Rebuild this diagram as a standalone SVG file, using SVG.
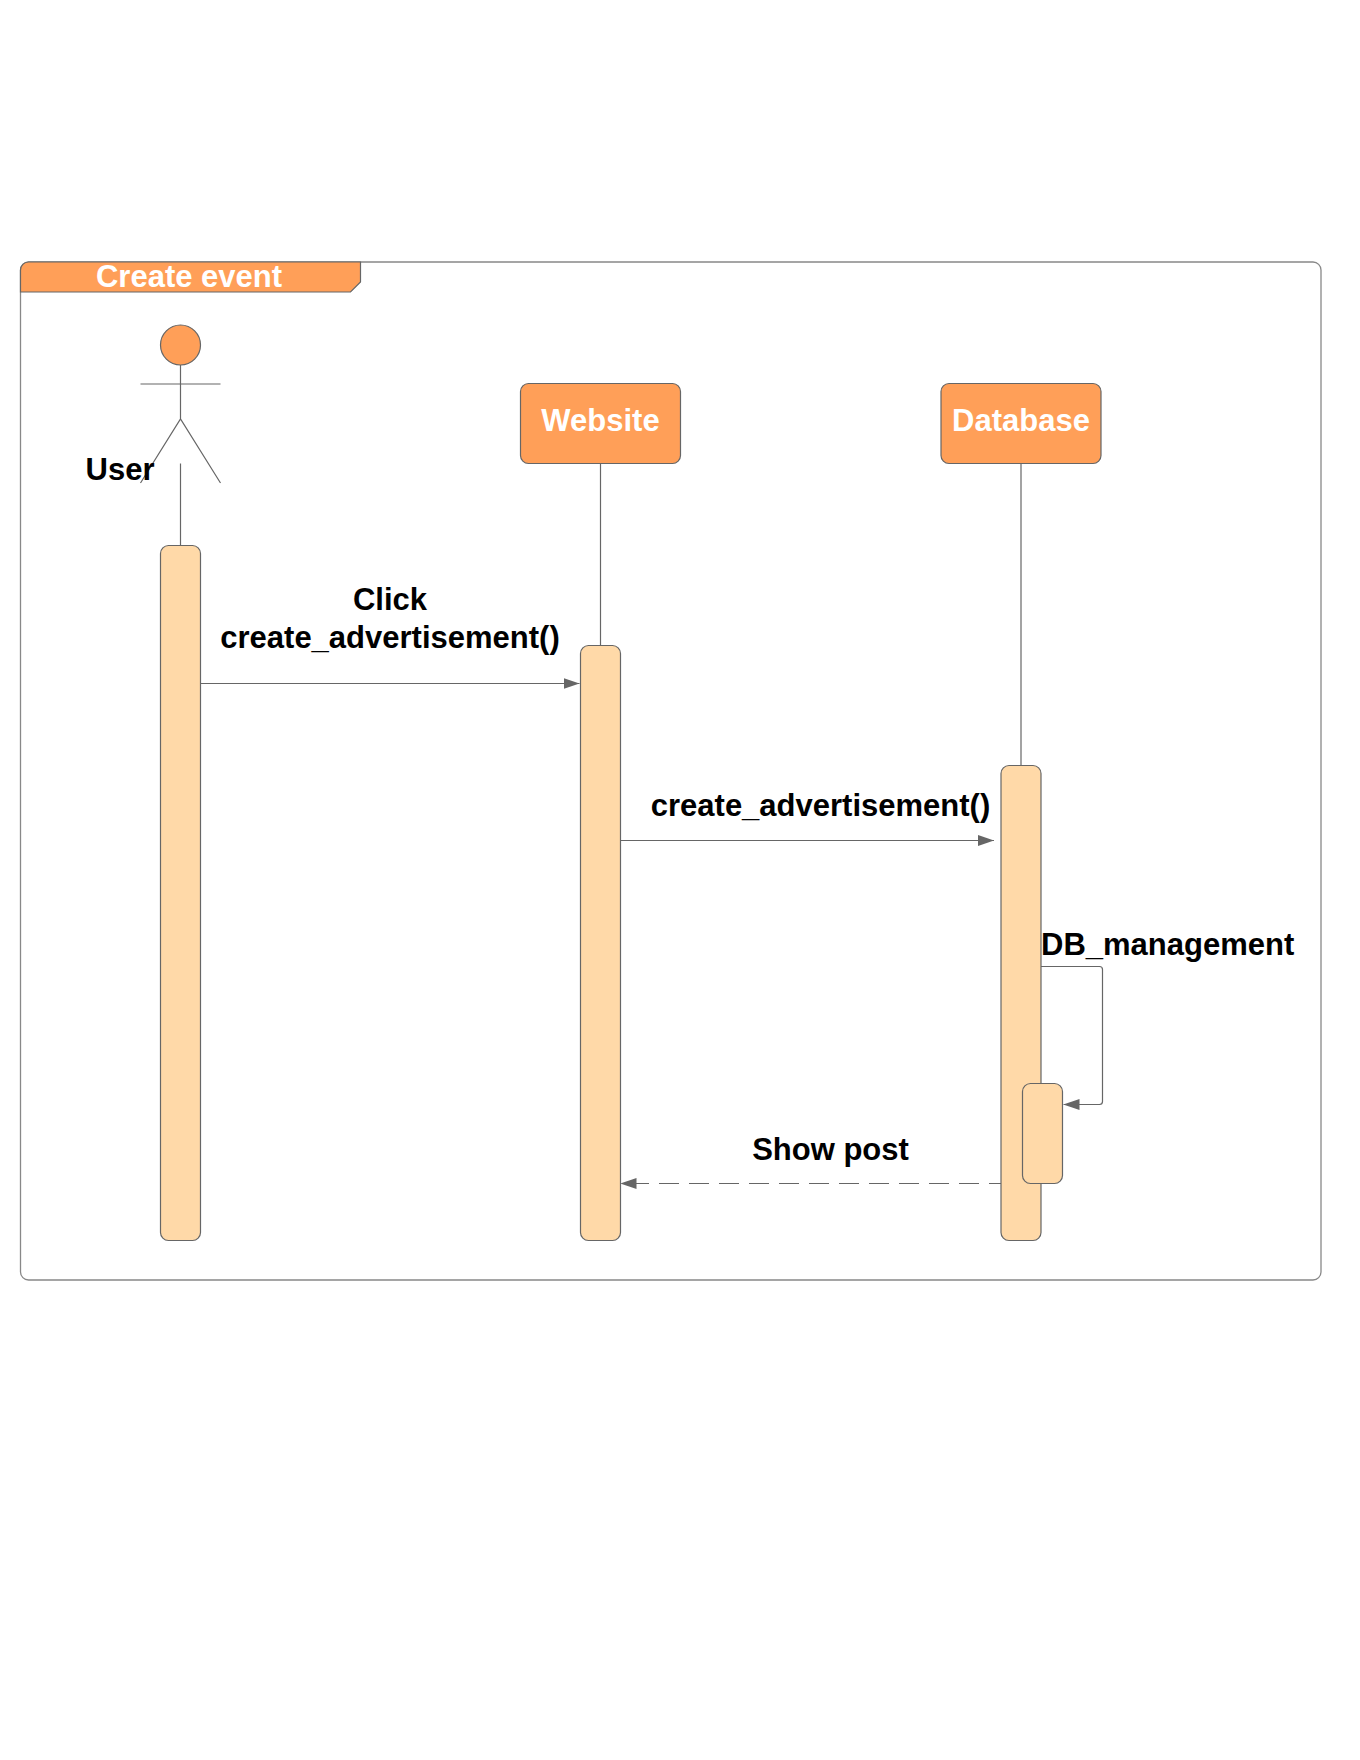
<svg xmlns="http://www.w3.org/2000/svg" width="1360" height="1760" viewBox="0 0 1360 1760">
<style>
.head{fill:#ff9f58;stroke:#666;stroke-width:1.2}
.act{fill:#ffd9a8;stroke:#666;stroke-width:1.2}
.ln{fill:none;stroke:#666;stroke-width:1.2}
.t{font-family:"Liberation Sans",Arial,sans-serif;font-weight:700;font-size:31px;fill:#000}
.w{fill:#fff}
.m{text-anchor:middle}
</style>
<defs>
<marker id="arrow" markerUnits="userSpaceOnUse" markerWidth="16" markerHeight="12" refX="16" refY="6" orient="auto"><path d="M0 0.5L16 6L0 11.5Z" fill="#666"/></marker>
</defs>
<rect width="1360" height="1760" fill="#fff"/>
<g id="frame">
<rect x="20.500" y="262" width="1300.500" height="1018" rx="8" fill="#fff" stroke="#888" stroke-width="1.3"/>
<path class="head" d="M20.500 292V270a8 8 0 0 1 8-8H360.500V282L350.500 292Z"/>
<text class="t w m" x="189" y="286.500">Create event</text>
</g>
<g id="connectors">
<path class="ln" d="M180.500 463.500V545.500"/>
<path class="ln" d="M600.500 463.500V645.500"/>
<path class="ln" d="M1021 463.500V765.500"/>
<path class="ln" d="M200.500 683.500H579.500" marker-end="url(#arrow)"/>
<path class="ln" d="M620.500 840.500H994" marker-end="url(#arrow)"/>
<path class="ln" d="M1041 966.500H1099.500a3 3 0 0 1 3 3V1101.500a3 3 0 0 1-3 3H1063.500" marker-end="url(#arrow)"/>
<path class="ln" d="M1001 1183.500H620.500" stroke-dasharray="20 10" stroke-dashoffset="8" marker-end="url(#arrow)"/>
</g>
<g id="user">
<circle class="head" cx="180.500" cy="345" r="20"/>
<path class="ln" d="M180.500 365V419M140.500 384H220.500M140.500 483L180.500 419L220.500 483"/>
<text class="t m" x="120" y="480">User</text>
</g>
<g id="website"><rect class="head" x="520.500" y="383.500" width="160" height="80" rx="8"/><text class="t w m" x="600.500" y="430.500">Website</text></g>
<g id="database"><rect class="head" x="941" y="383.500" width="160" height="80" rx="8"/><text class="t w m" x="1021" y="430.500">Database</text></g>
<g id="user-activation"><rect class="act" x="160.500" y="545.500" width="40" height="695" rx="8"/></g>
<g id="website-activation"><rect class="act" x="580.500" y="645.500" width="40" height="595" rx="8"/></g>
<g id="database-activation"><rect class="act" x="1001" y="765.500" width="40" height="475" rx="8"/></g>
<g id="self-activation"><rect class="act" x="1022.500" y="1083.500" width="40" height="100" rx="8"/></g>
<g id="labels">
<text class="t m" x="390" y="610">Click</text>
<text class="t m" x="390" y="647.500">create_advertisement()</text>
<text class="t m" x="820.500" y="816">create_advertisement()</text>
<text class="t" x="1041" y="954.500">DB_management</text>
<text class="t m" x="830.500" y="1159.500">Show post</text>
</g>
</svg>
